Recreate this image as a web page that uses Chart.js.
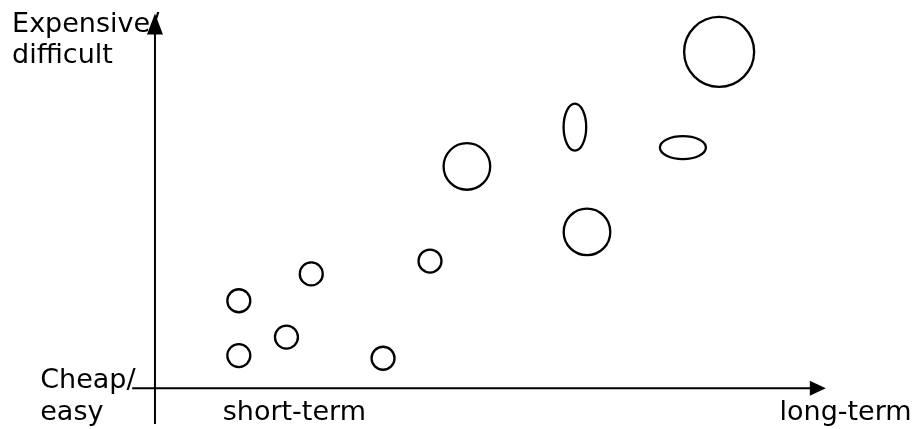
<!DOCTYPE html>
<html>
<head>
<meta charset="utf-8">
<script src="https://cdn.jsdelivr.net/npm/chart.js@4.4.0/dist/chart.umd.min.js"></script>
<style>
  html, body { margin: 0; padding: 0; background: #fff; }
  #wrap { width: 913px; height: 429px; }
</style>
</head>
<body>
<div id="wrap"><canvas id="grafico"></canvas></div>
<script>
// bubbles: x = time horizon, y = cost/difficulty, r = bubble size
const circleX = [12.5, 12.5, 19.6, 23.3, 34.0, 41.0, 46.5, 64.4, 84.1];
const circleY = [8.6, 23.1, 13.5, 30.2, 7.9, 33.6, 58.6, 41.3, 88.9];
const circleR = [11.5, 11.5, 11.5, 11.5, 11.5, 11.5, 23.3, 23.3, 35];

// stretched bubbles (width, height)
const ellipseX = [62.6, 78.7];
const ellipseY = [69.0, 63.6];
const ellipseW = [22.6, 46];
const ellipseH = [47, 23];

const axisLabels = {
  yTop: ["Expensive/", "difficult"],
  yBottom: ["Cheap/", "easy"],
  xLeft: "short-term",
  xRight: "long-term"
};

const FONT = '27px "DejaVu Sans", Verdana, sans-serif';

const axesPlugin = {
  id: "axes",
  beforeDatasetsDraw(chart) {
    const { ctx, scales: { x, y } } = chart;
    const x0 = x.getPixelForValue(0);
    const y0 = y.getPixelForValue(0);

    ctx.save();
    ctx.fillStyle = "#000";
    ctx.font = FONT;
    ctx.textAlign = "left";
    ctx.textBaseline = "alphabetic";
    ctx.fillText(axisLabels.yTop[0], x.getPixelForValue(-21.3), y.getPixelForValue(94.2));
    ctx.fillText(axisLabels.yTop[1], x.getPixelForValue(-21.3), y.getPixelForValue(86.0));
    ctx.fillText(axisLabels.yBottom[0], x.getPixelForValue(-17.1), y.getPixelForValue(0));
    ctx.fillText(axisLabels.yBottom[1], x.getPixelForValue(-17.1), y.getPixelForValue(-8.5));
    ctx.fillText(axisLabels.xLeft, x.getPixelForValue(10.1), y.getPixelForValue(-8.5));
    ctx.fillText(axisLabels.xRight, x.getPixelForValue(93.1), y.getPixelForValue(-8.5));

    ctx.strokeStyle = "#000";
    ctx.lineWidth = 2;
    const xEnd = x.getPixelForValue(100);
    const yEnd = y.getPixelForValue(99);

    ctx.beginPath();
    ctx.moveTo(x.getPixelForValue(-3.4), y0);
    ctx.lineTo(xEnd - 10, y0);
    ctx.moveTo(x0, y.getPixelForValue(-9.5));
    ctx.lineTo(x0, yEnd + 12);
    ctx.stroke();

    ctx.beginPath();
    ctx.moveTo(xEnd, y0);
    ctx.lineTo(xEnd - 16, y0 - 7.5);
    ctx.lineTo(xEnd - 16, y0 + 7.5);
    ctx.closePath();
    ctx.fill();

    ctx.beginPath();
    ctx.moveTo(x0, yEnd);
    ctx.lineTo(x0 - 8, yEnd + 21);
    ctx.lineTo(x0 + 8, yEnd + 21);
    ctx.closePath();
    ctx.fill();
    ctx.restore();
  },
  afterDatasetsDraw(chart) {
    // ellipses drawn at the scatter points placed by the chart
    const { ctx } = chart;
    const meta = chart.getDatasetMeta(1);
    ctx.save();
    ctx.strokeStyle = "#000";
    ctx.lineWidth = 2.3;
    meta.data.forEach((pt, i) => {
      ctx.beginPath();
      ctx.ellipse(pt.x, pt.y, ellipseW[i] / 2, ellipseH[i] / 2, 0, 0, Math.PI * 2);
      ctx.stroke();
    });
    ctx.restore();
  }
};

const ctx = document.getElementById("grafico").getContext("2d");

new Chart(ctx, {
  type: "bubble",
  data: {
    datasets: [
      {
        label: "circles",
        data: circleX.map((v, i) => ({ x: v, y: circleY[i], r: circleR[i] })),
        backgroundColor: "rgba(0,0,0,0)",
        borderColor: "#000",
        borderWidth: 2.3,
        hoverBorderWidth: 2.3
      },
      {
        type: "scatter",
        label: "ellipses",
        data: ellipseX.map((v, i) => ({ x: v, y: ellipseY[i] })),
        pointRadius: 0
      }
    ]
  },
  options: {
    responsive: true,
    maintainAspectRatio: false,
    animation: false,
    events: [],
    layout: { padding: 0, autoPadding: false },
    plugins: {
      legend: { display: false },
      tooltip: { enabled: false },
      title: { display: false }
    },
    scales: {
      x: { type: "linear", display: false, min: -23.1, max: 113.0 },
      y: { type: "linear", display: false, min: -10.8, max: 102.6 }
    }
  },
  plugins: [axesPlugin]
});
</script>
</body>
</html>
